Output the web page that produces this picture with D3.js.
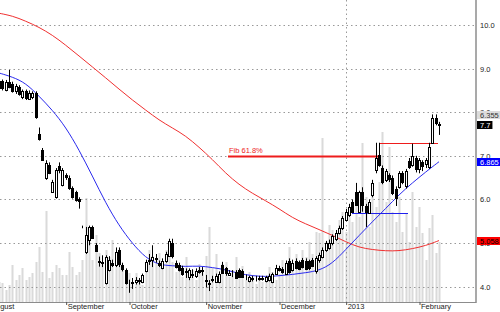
<!DOCTYPE html>
<html lang="en">
<head>
<meta charset="UTF-8">
<title>Candlestick chart</title>
<script src="https://d3js.org/d3.v7.min.js"></script>
<style>
  body { margin: 0; background: #fff; }
  svg { display: block; font-family: Arial, "Liberation Sans", sans-serif; }
</style>
</head>
<body>
<div id="chart"></div>
<script>
const width = 500, height = 312;
const plotRight = 476, plotBottom = 302;

// daily OHLC, one entry per trading day (Aug 2012 - Feb 2013)
const open = [
  8.55, 8.72, 8.52, 8.70, 8.65, 8.48, 8.58, 8.35, 8.48, 8.32,
  8.35, 8.44, 7.50, 7.14, 6.50, 6.79, 6.18, 6.06, 6.77, 6.34,
  6.55, 6.50, 6.27, 6.18, 6.02, 5.37, 4.80, 5.08, 5.37, 4.95,
  4.60, 4.55, 4.08, 4.39, 4.55, 4.50, 4.85, 4.50, 4.39, 4.05,
  4.08, 4.10, 4.15, 4.11, 4.37, 4.60, 4.62, 4.65, 4.55, 4.45,
  4.58, 4.70, 5.00, 4.55, 4.50, 4.44, 4.35, 4.22, 4.30, 4.25,
  4.38, 4.35, 4.15, 4.08, 4.15, 4.12, 4.11, 4.50, 4.42, 4.28,
  4.30, 4.34, 4.38, 4.36, 4.22, 4.13, 4.20, 4.17, 4.18, 4.20,
  4.13, 4.15, 4.12, 4.30, 4.42, 4.40, 4.30, 4.60, 4.40, 4.60,
  4.57, 4.62, 4.60, 4.58, 4.62, 4.35, 4.60, 4.69, 4.85, 4.88,
  5.00, 5.10, 5.24, 5.35, 5.53, 5.65, 5.95, 6.18, 5.72, 6.18,
  5.85, 5.70, 6.10, 6.68, 7.02, 6.73, 6.45, 6.55, 6.50, 6.25,
  6.29, 6.60, 6.30, 6.89, 6.79, 6.95, 6.70, 6.85, 6.80, 6.75,
  7.30, 7.87, 7.72
];
const high = [
  8.78, 8.75, 8.74, 8.97, 8.70, 8.65, 8.62, 8.52, 8.52, 8.50,
  8.48, 8.48, 7.65, 7.18, 6.90, 6.85, 6.45, 6.72, 6.85, 6.72,
  6.60, 6.55, 6.30, 6.20, 6.05, 5.40, 5.37, 5.40, 5.40, 5.00,
  4.69, 4.72, 4.72, 4.70, 4.62, 4.90, 4.90, 4.55, 4.42, 4.16,
  4.20, 4.22, 4.20, 4.30, 4.62, 4.75, 4.95, 4.75, 4.60, 4.65,
  4.80, 5.10, 5.10, 4.60, 4.55, 4.48, 4.42, 4.42, 4.40, 4.42,
  4.45, 4.45, 4.27, 4.15, 4.25, 4.30, 4.35, 4.57, 4.45, 4.38,
  4.38, 4.38, 4.42, 4.40, 4.28, 4.25, 4.25, 4.25, 4.25, 4.25,
  4.25, 4.30, 4.32, 4.50, 4.48, 4.45, 4.60, 4.65, 4.62, 4.65,
  4.60, 4.66, 4.65, 4.62, 4.66, 4.70, 4.78, 4.90, 5.05, 5.08,
  5.20, 5.30, 5.40, 5.62, 5.78, 5.90, 6.00, 6.38, 6.20, 6.28,
  5.90, 6.00, 6.45, 7.30, 7.30, 6.78, 6.70, 6.60, 6.55, 6.30,
  6.65, 6.65, 6.70, 6.95, 7.28, 7.00, 6.95, 6.90, 6.95, 7.30,
  7.95, 7.95, 7.78
];
const low = [
  8.50, 8.50, 8.48, 8.55, 8.45, 8.42, 8.38, 8.30, 8.28, 8.28,
  8.30, 7.85, 7.35, 6.90, 6.45, 6.58, 6.15, 6.02, 6.60, 6.30,
  6.45, 6.22, 6.02, 5.95, 5.79, 5.34, 4.75, 4.95, 5.10, 4.80,
  4.46, 4.45, 4.05, 4.35, 4.45, 4.45, 4.45, 4.35, 4.05, 3.86,
  3.95, 4.05, 4.05, 4.08, 4.33, 4.50, 4.45, 4.55, 4.45, 4.40,
  4.55, 4.68, 4.65, 4.42, 4.35, 4.25, 4.20, 4.15, 4.20, 4.20,
  4.30, 4.25, 3.98, 3.90, 4.10, 4.10, 4.08, 4.30, 4.25, 4.25,
  4.22, 4.18, 4.20, 4.20, 4.15, 4.10, 4.12, 4.12, 4.14, 4.14,
  4.10, 4.12, 4.08, 4.28, 4.35, 4.30, 4.28, 4.30, 4.35, 4.40,
  4.38, 4.42, 4.38, 4.38, 4.45, 4.30, 4.55, 4.65, 4.80, 4.85,
  4.95, 5.05, 5.20, 5.30, 5.50, 5.60, 5.70, 5.85, 5.70, 5.72,
  5.37, 5.68, 6.05, 6.60, 6.75, 6.35, 6.40, 6.40, 6.10, 5.85,
  6.25, 6.35, 6.25, 6.70, 6.75, 6.62, 6.60, 6.65, 6.72, 6.70,
  7.28, 7.70, 7.48
];
const close = [
  8.72, 8.55, 8.70, 8.58, 8.50, 8.60, 8.42, 8.48, 8.33, 8.45,
  8.44, 7.89, 7.38, 6.90, 6.84, 6.61, 6.40, 6.68, 6.68, 6.68,
  6.50, 6.27, 6.06, 5.99, 5.98, 5.36, 5.19, 5.37, 5.12, 4.82,
  4.58, 4.57, 4.68, 4.62, 4.50, 4.80, 4.52, 4.40, 4.09, 4.05,
  4.10, 4.15, 4.12, 4.27, 4.57, 4.62, 4.68, 4.62, 4.50, 4.60,
  4.75, 5.05, 4.70, 4.45, 4.38, 4.30, 4.33, 4.38, 4.28, 4.37,
  4.34, 4.38, 4.12, 4.05, 4.18, 4.25, 4.30, 4.32, 4.30, 4.32,
  4.30, 4.20, 4.23, 4.23, 4.22, 4.22, 4.18, 4.18, 4.20, 4.18,
  4.22, 4.25, 4.30, 4.44, 4.38, 4.32, 4.55, 4.35, 4.55, 4.45,
  4.40, 4.47, 4.42, 4.42, 4.48, 4.65, 4.72, 4.85, 5.00, 5.00,
  5.17, 5.24, 5.35, 5.58, 5.72, 5.83, 5.72, 5.88, 6.18, 5.88,
  5.72, 5.95, 6.38, 6.95, 6.79, 6.40, 6.65, 6.45, 6.15, 6.04,
  6.61, 6.40, 6.65, 6.75, 7.00, 6.70, 6.90, 6.75, 6.90, 7.20,
  7.87, 7.76, 7.70
];
// volume, thousands of shares
const volume = [
  20, 19, 12, 17, 37, 22, 27, 34, 22, 25,
  29, 40, 55, 30, 91, 24, 30, 37, 34, 27,
  27, 50, 35, 27, 30, 42, 104, 69, 42, 67,
  49, 39, 52, 45, 62, 45, 38, 34, 24, 29,
  20, 29, 22, 17, 35, 52, 46, 42, 49, 38,
  52, 45, 40, 30, 36, 25, 45, 28, 32, 22,
  38, 30, 46, 75, 34, 48, 28, 38, 40, 25,
  32, 45, 28, 36, 22, 30, 27, 18, 24, 20,
  26, 35, 30, 22, 28, 42, 38, 55, 34, 48,
  40, 52, 45, 60, 48, 70, 69, 164, 60, 77,
  72, 62, 82, 90, 70, 95, 80, 110, 85, 159,
  105, 75, 112, 95, 120, 170, 100, 155, 90, 80,
  105, 70, 88, 60, 110, 75, 95, 69, 42, 74,
  87, 49, 60
];

// moving averages, read every 4th day
const maIndex = [0, 4, 8, 12, 16, 20, 24, 28, 32, 36, 40, 44, 48, 52, 56, 60, 64,
                 68, 72, 76, 80, 84, 88, 92, 96, 100, 104, 108, 112, 116, 120, 124, 128, 132];
const blueMA = [8.90, 8.81, 8.67, 8.37, 8.05, 7.66, 7.14, 6.54, 5.92, 5.40, 4.99, 4.66, 4.50, 4.48, 4.46, 4.48, 4.44,
                4.39, 4.30, 4.25, 4.23, 4.25, 4.28, 4.32, 4.37, 4.53, 4.85, 5.17, 5.49, 5.79, 6.11, 6.38, 6.63, 6.865];
const redMA = [10.27, 10.21, 10.09, 9.95, 9.77, 9.54, 9.29, 9.04, 8.79, 8.53, 8.28, 8.05, 7.82, 7.64, 7.46, 7.20, 6.92,
               6.60, 6.34, 6.14, 5.97, 5.79, 5.58, 5.44, 5.31, 5.18, 5.03, 4.90, 4.85, 4.82, 4.82, 4.87, 4.94, 5.058];

const months = ["August", "September", "October", "November", "December", "2013", "February"];
const monthStart = [-3, 20, 39, 62, 84, 104, 126];
const priceTicks = [4, 5, 6, 7, 8, 9, 10];

// drawn level lines: [value, from day, to day, colour, width]
const levels = [
  [7.0, 68.7, 114.6, "#ee1c1c", 2],
  [7.3, 114, 131.7, "#ee1c1c", 1],
  [5.7, 105.9, 122.7, "#2020ee", 1]
];
const markerText = ["6.355", "7.7", "6.865", "5.058"];
const markerValue = [7.93, 7.7, 6.865, 5.058];
const markerFill = ["#dcdcdc", "#000", "#0000ff", "#ff0000"];
const markerInk = ["#333", "#fff", "#fff", "#000"];

const svg = d3.select("#chart").append("svg")
    .attr("width", width)
    .attr("height", height);

const x = d3.scaleLinear().domain([0, 132]).range([-1, 439]);
const y = d3.scaleLinear().domain([4, 10]).range([286.7, 25]);
const yVol = d3.scaleLinear().domain([0, 200]).range([plotBottom, plotBottom - 200]);
const px = i => Math.round(x(i));

// volume bars
svg.append("g").selectAll("rect")
    .data(volume)
    .join("rect")
    .attr("x", (d, i) => px(i) - 0.5)
    .attr("y", d => yVol(d))
    .attr("width", 2)
    .attr("height", d => plotBottom - yVol(d))
    .attr("fill", "#dadada");

// dotted grid
svg.append("g").selectAll("line")
    .data(priceTicks)
    .join("line")
    .attr("x1", 0).attr("x2", plotRight)
    .attr("y1", d => Math.round(y(d)) + 0.5)
    .attr("y2", d => Math.round(y(d)) + 0.5)
    .attr("stroke", "#999")
    .attr("stroke-dasharray", "1.5,3");

svg.append("line")
    .attr("x1", px(104) + 0.5).attr("x2", px(104) + 0.5)
    .attr("y1", 0).attr("y2", plotBottom)
    .attr("stroke", "#999")
    .attr("stroke-dasharray", "1.5,3");

// moving averages
const maLine = d3.line()
    .x((d, i) => x(maIndex[i]))
    .y(d => y(d))
    .curve(d3.curveBasis);

svg.append("path").datum(redMA)
    .attr("d", maLine)
    .attr("fill", "none")
    .attr("stroke", "#f03030")
    .attr("stroke-width", 1);

svg.append("path").datum(blueMA)
    .attr("d", maLine)
    .attr("fill", "none")
    .attr("stroke", "#2a2aee")
    .attr("stroke-width", 1);

// level lines
svg.append("g").selectAll("line")
    .data(levels)
    .join("line")
    .attr("x1", d => x(d[1])).attr("x2", d => x(d[2]))
    .attr("y1", d => Math.round(y(d[0])) + 0.5)
    .attr("y2", d => Math.round(y(d[0])) + 0.5)
    .attr("stroke", d => d[3])
    .attr("stroke-width", d => d[4]);

svg.append("text")
    .attr("x", x(levels[0][1]) + 1)
    .attr("y", Math.round(y(levels[0][0])) - 3)
    .attr("fill", "#ee1c1c")
    .attr("font-size", "7.5px")
    .text("Fib 61.8%");

// candles
const candles = svg.append("g").selectAll("g")
    .data(d3.range(open.length))
    .join("g");

candles.append("line")
    .attr("x1", i => px(i) + 0.5).attr("x2", i => px(i) + 0.5)
    .attr("y1", i => y(high[i])).attr("y2", i => y(low[i]))
    .attr("stroke", "#000");

candles.append("rect")
    .attr("x", i => px(i) - 0.5)
    .attr("y", i => Math.round(y(Math.max(open[i], close[i]))) + 0.5)
    .attr("width", 2)
    .attr("height", i => Math.max(0, Math.round(Math.abs(y(open[i]) - y(close[i])))))
    .attr("fill", i => close[i] >= open[i] ? "#fff" : "#000")
    .attr("stroke", "#000");

// axes
svg.append("line")
    .attr("x1", plotRight).attr("x2", plotRight)
    .attr("y1", 0).attr("y2", plotBottom + 1)
    .attr("stroke", "#8c8c8c")
    .attr("stroke-width", 1.5);

svg.append("line")
    .attr("x1", 0).attr("x2", plotRight)
    .attr("y1", plotBottom + 0.5).attr("y2", plotBottom + 0.5)
    .attr("stroke", "#8c8c8c");

const yAxis = svg.append("g")
    .attr("transform", `translate(${plotRight + 4},0)`)
    .call(d3.axisRight(y).tickValues(priceTicks).tickSize(0).tickFormat(d3.format(".1f")));
yAxis.select(".domain").remove();
yAxis.selectAll("text").attr("x", 0).attr("font-size", "7.5px").attr("fill", "#222")
    .attr("font-family", "Arial, 'Liberation Sans', sans-serif");

const xAxis = svg.append("g")
    .attr("transform", `translate(0,${plotBottom})`)
    .call(d3.axisBottom(x).tickValues(monthStart).tickSize(3).tickFormat((d, i) => months[i]));
xAxis.select(".domain").remove();
xAxis.selectAll(".tick line").attr("stroke", "#555").attr("transform", "translate(0.5,0)");
xAxis.selectAll("text")
    .attr("text-anchor", "start")
    .attr("x", 1.5).attr("y", 2).attr("dy", "0.71em")
    .attr("font-size", "7.5px").attr("fill", "#222")
    .attr("font-family", "Arial, 'Liberation Sans', sans-serif");

// value markers on the price axis
const markers = svg.append("g").selectAll("g")
    .data(markerValue)
    .join("g")
    .attr("transform", d => `translate(${plotRight + 1},${Math.round(y(d))})`);
const markerRect = markers.append("rect")
    .attr("y", -4).attr("height", 8)
    .attr("fill", (d, i) => markerFill[i]);
const markerLabel = markers.append("text")
    .attr("x", 3).attr("dy", "0.35em")
    .attr("font-size", "7.5px")
    .attr("fill", (d, i) => markerInk[i])
    .text((d, i) => markerText[i]);
markerLabel.each(function (d, i) {
    const w = this.getComputedTextLength();
    d3.select(markerRect.nodes()[i]).attr("width", w + 5);
});
</script>
</body>
</html>
